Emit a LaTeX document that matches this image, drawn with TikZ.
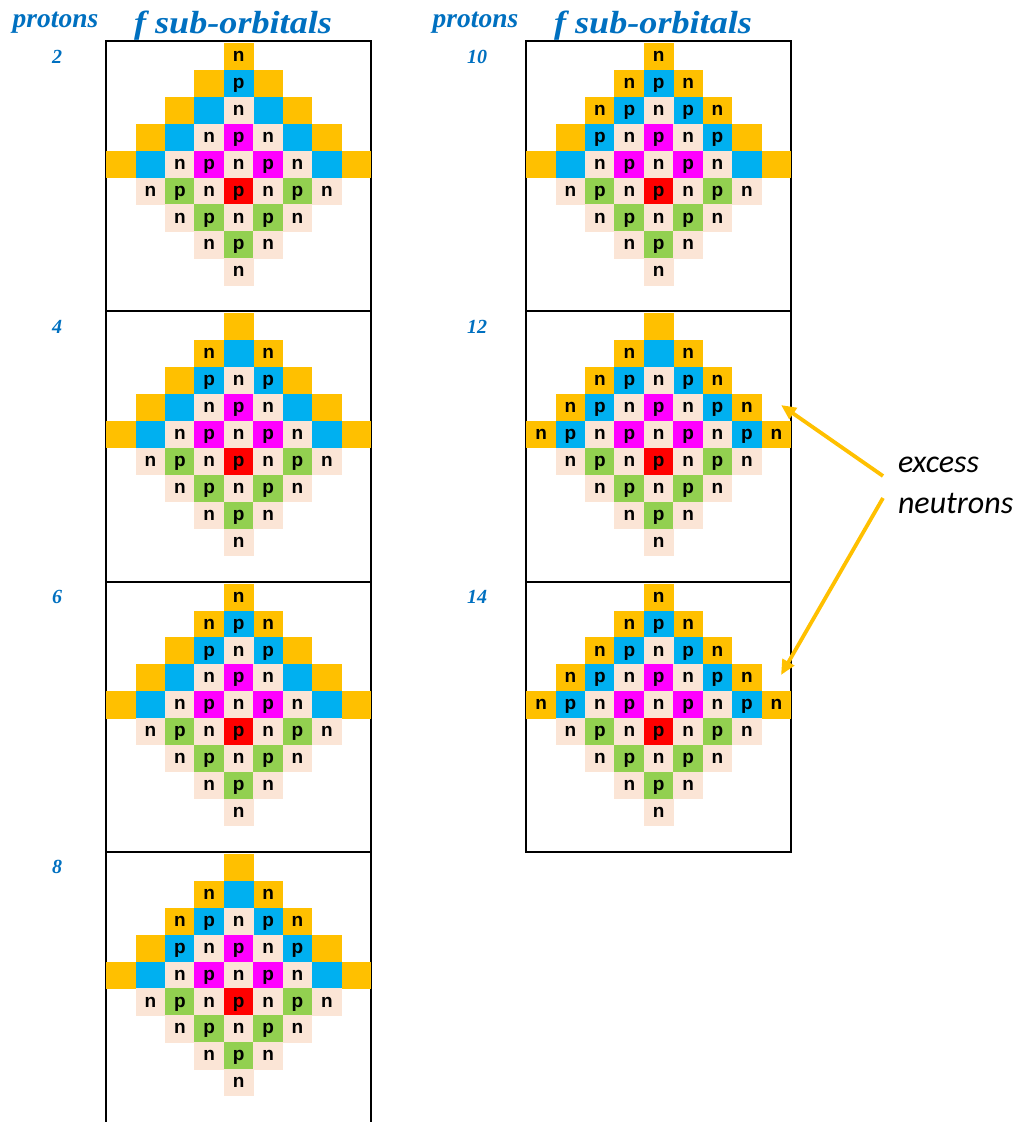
\documentclass[tikz,border=0pt]{standalone}
\usepackage{fontspec}
\usepackage{graphicx}
\usepackage{tikz}
\usetikzlibrary{arrows.meta}

\newfontfamily\cellfont{Liberation Sans}
\newfontfamily\headfont{Liberation Serif}
\newfontfamily\notefont{Carlito}

\definecolor{shellY}{HTML}{FFC000}
\definecolor{shellB}{HTML}{00B0F0}
\definecolor{coreM}{HTML}{FF00FF}
\definecolor{coreR}{HTML}{FF0000}
\definecolor{coreG}{HTML}{92D050}
\definecolor{coreN}{HTML}{FBE5D6}
\definecolor{headblue}{HTML}{0070C0}

\begin{document}
\begin{tikzpicture}[x=1pt, y=-1pt]

\tikzstyle{every node} = [inner sep=0pt, outer sep=0pt]
\tikzstyle{cell} = [rectangle, minimum width=29.8pt, minimum height=27.3pt, text height=9.8pt, text depth=0pt, font=\cellfont\bfseries\fontsize{19}{19}\selectfont]
\tikzstyle{head} = [text=headblue, font=\headfont\bfseries\itshape\fontsize{27.5}{27.5}\selectfont]
\tikzstyle{title} = [text=headblue, font=\headfont\bfseries\itshape\fontsize{32}{32}\selectfont]
\tikzstyle{num} = [text=headblue, font=\headfont\bfseries\itshape\fontsize{20}{20}\selectfont]
\tikzstyle{note} = [font=\notefont\itshape\fontsize{32}{32}\selectfont]
\tikzstyle{panel} = [draw, line width=2.2pt]
\tikzstyle{arr} = [shellY, line width=3.8pt, -{Triangle[length=15pt, width=13pt]}]

\useasboundingbox (0,0) rectangle (1024,1122);

% column headings
\foreach \hx in {0,420} {
  \node[head, anchor=base] (pr\hx) at (55.5+\hx,27) {protons};
  \node[title, anchor=base] (fs\hx) at (233+\hx,33) {\scalebox{1.13}[1]{f sub-orbitals}};
}

% protons / x shift / y shift / box height / filled n ring / filled p ring (bits = rows)
\foreach \pn/\px/\py/\ph/\ym/\bm in {2/0/0/270.3/1/2, 4/0/270.3/270.3/2/4,
    6/0/540.6/270.3/3/6, 8/0/810.9/300/6/12, 10/420/0/270.3/7/14,
    12/420/270.3/270.3/30/28, 14/420/540.6/270.3/31/30} {
  \draw[panel] (105.7+\px,41+\py) rectangle +(265.3,\ph);
  \node[num, anchor=base] (n\pn) at (57+\px,63+\py) {\pn};

  % outer n ring
  \foreach \rr in {0,...,4} {
    \pgfmathtruncatemacro\yon{mod(floor(\ym/2^\rr),2)}
    \foreach \cc in {-\rr,\rr}
      \node[cell, fill=shellY] (y\pn-\rr\cc) at (238.7+\px+29.4*\cc, 56.7+\py+26.9*\rr) {\ifnum\yon=1 n\fi};
  }
  % p ring
  \foreach \rr in {1,...,4} {
    \pgfmathtruncatemacro\bon{mod(floor(\bm/2^\rr),2)}
    \pgfmathtruncatemacro\w{\rr-1}
    \foreach \cc in {-\w,\w}
      \node[cell, fill=shellB] (b\pn-\rr\cc) at (238.7+\px+29.4*\cc, 56.7+\py+26.9*\rr) {\ifnum\bon=1 p\fi};
  }
  % core, same in every panel
  \foreach \rr/\cc/\col/\lt in {2/0/coreN/n, 3/-1/coreN/n, 3/0/coreM/p, 3/1/coreN/n,
      4/-2/coreN/n, 4/-1/coreM/p, 4/0/coreN/n, 4/1/coreM/p, 4/2/coreN/n,
      5/-3/coreN/n, 5/-2/coreG/p, 5/-1/coreN/n, 5/0/coreR/p, 5/1/coreN/n, 5/2/coreG/p, 5/3/coreN/n,
      6/-2/coreN/n, 6/-1/coreG/p, 6/0/coreN/n, 6/1/coreG/p, 6/2/coreN/n,
      7/-1/coreN/n, 7/0/coreG/p, 7/1/coreN/n, 8/0/coreN/n}
    \node[cell, fill=\col] (k\pn-\rr\cc) at (238.7+\px+29.4*\cc, 56.7+\py+26.9*\rr) {\lt};
}

% excess neutrons
\coordinate (tip12) at (781,405);
\coordinate (tip14) at (781,675);
\node[note, anchor=base west] (ex1) at (898,472) {excess};
\node[note, anchor=base west] (ex2) at (898,513) {neutrons};
\draw[arr] ([shift={(-15,4)}]ex1.base west) -- (tip12);
\draw[arr] ([shift={(-15,-15)}]ex2.base west) -- (tip14);
\end{tikzpicture}
\end{document}
